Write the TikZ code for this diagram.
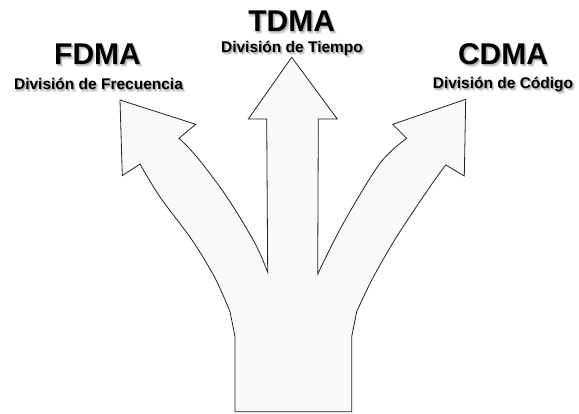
\documentclass[tikz,border=0pt]{standalone}
\usepackage{fontspec}
\setmainfont{Liberation Sans}
\definecolor{arrowfill}{HTML}{F9F9F9}
\definecolor{arrowline}{HTML}{222222}

% Text with a soft drop shadow built from layered grey copies behind it
\newcommand\shadowed[1]{%
  \rlap{\hspace{2.4pt}\raisebox{-3pt}{\color{black!10}#1}}%
  \rlap{\hspace{0.6pt}\raisebox{-2.6pt}{\color{black!12}#1}}%
  \rlap{\hspace{1.8pt}\raisebox{-2.2pt}{\color{black!20}#1}}%
  \rlap{\hspace{1.0pt}\raisebox{-1.4pt}{\color{black!32}#1}}%
  #1}

\begin{document}
\begin{tikzpicture}[x=1pt, y=-1pt,
    labeltext/.style={anchor=base, inner sep=0pt, outer sep=0pt},
    title/.style={labeltext, font=\fontsize{30}{30}\selectfont\bfseries},
    subtitle/.style={labeltext, font=\fontsize{15.5}{15.5}\selectfont\bfseries},
    arrowbody/.style={fill=arrowfill, draw=arrowline, line width=0.8pt, line join=miter}]
\useasboundingbox (0,0) rectangle (579,413);

% Three-way branching arrow, drawn as a single outline
\filldraw[arrowbody]
  (235,411.7) -- (235,336.7) -- (230,311.7)
  -- plot[smooth, tension=0.55] coordinates {(230,311.7) (215,278) (192,240) (160,197) (140,164)}
  -- (122.3,175.7) -- (120,100) -- (195.7,124.3) -- (179,138.3)
  -- plot[smooth, tension=0.55] coordinates {(179,138.3) (196.7,156.7) (226.7,196.7) (255,243.3) (267.7,272.3)}
  -- (266.7,119) -- (248.3,119) -- (291.7,57.3) -- (337.3,119) -- (318.3,119) -- (317.7,274)
  -- plot[smooth, tension=0.55] coordinates {(317.7,274) (343.3,223.3) (380,163.3) (406.7,138.3)}
  -- (392.7,124.3) -- (465.7,99.3) -- (464.3,176) -- (445.7,165)
  -- plot[smooth, tension=0.55] coordinates {(445.7,165) (430,186.7) (396.7,236.7) (372.7,278.3) (356.7,311.7)}
  -- (351.7,336.7) -- (351.7,411.7) -- cycle;

% Labels
\node[title]    (fdma)    at (97.5,64)  {\shadowed{FDMA}};
\node[subtitle] (fdmasub) at (98.5,89.5) {\shadowed{División de Frecuencia}};
\node[title]    (tdma)    at (291.7,31.5) {\shadowed{TDMA}};
\node[subtitle] (tdmasub) at (292,52)   {\shadowed{División de Tiempo}};
\node[title]    (cdma)    at (503,64)   {\shadowed{CDMA}};
\node[subtitle] (cdmasub) at (503,88)   {\shadowed{División de Código}};
\end{tikzpicture}
\end{document}
